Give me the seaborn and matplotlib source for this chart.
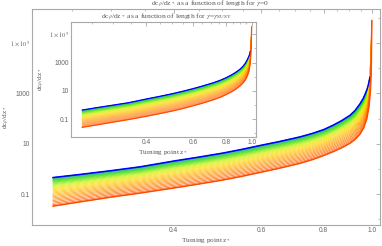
import numpy as np
import pandas as pd
import matplotlib
matplotlib.use("Agg")
import matplotlib.pyplot as plt
import matplotlib.ticker as mticker
from matplotlib.colors import LinearSegmentedColormap
import seaborn as sns

# ---------------- data (log10 of dc/dz) ----------------
z_grid = [0.229, 0.26, 0.3, 0.343, 0.4, 0.45, 0.503, 0.55, 0.6, 0.65, 0.717, 0.76,
          0.80, 0.835, 0.87, 0.904, 0.925, 0.946, 0.962, 0.976]

# main panel (gamma = 0)
main_top = [-0.345, -0.22, -0.07, 0.083, 0.31, 0.47, 0.63, 0.78, 0.94, 1.08, 1.27, 1.41,
            1.56, 1.73, 1.92, 2.13, 2.32, 2.58, 2.82, 3.12]
main_bottom = [-1.48, -1.31, -1.12, -0.96, -0.76, -0.60, -0.44, -0.29, -0.13, 0.02, 0.22, 0.37,
               0.53, 0.68, 0.84, 1.02, 1.17, 1.38, 1.62, 1.97]
main_tail_z_top = [0.979, 0.983, 0.987, 0.991]
main_tail_top = [3.20, 3.32, 3.47, 3.65]
main_tail_z_bottom = [0.986, 0.993, 0.997, 0.9995]
main_tail_bottom = [2.45, 3.10, 4.05, 5.90]

# inset panel (gamma = gamma_SUSY)
inset_top = [-0.35, -0.18, 0.0, 0.17, 0.43, 0.62, 0.81, 0.98, 1.16, 1.34, 1.58, 1.75,
             1.93, 2.11, 2.31, 2.54, 2.72, 2.95, 3.2, 3.45]
inset_bottom = [-1.57, -1.40, -1.20, -1.02, -0.79, -0.60, -0.41, -0.24, -0.05, 0.13, 0.38, 0.55,
                0.74, 0.92, 1.12, 1.36, 1.54, 1.78, 2.04, 2.38]
inset_tail_z_top = [0.979, 0.983, 0.986, 0.989]
inset_tail_top = [3.52, 3.62, 3.72, 3.82]
inset_tail_z_bottom = [0.986, 0.992, 0.996, 0.9995]
inset_tail_bottom = [2.90, 3.50, 4.30, 5.54]

# position of each curve of the family inside the band (0 = top/blue, 1 = bottom/red)
band_position = [0.0, 0.025, 0.05, 0.076, 0.103, 0.131, 0.16, 0.19, 0.221, 0.253,
                 0.286, 0.32, 0.355, 0.391, 0.428, 0.466, 0.505, 0.545, 0.586, 0.628,
                 0.671, 0.715, 0.76, 0.806, 0.853, 0.901, 0.95, 1.0]

x_major = [0.4, 0.6, 0.8, 1.0]
x_major_labels = ["0.4", "0.6", "0.8", "1.0"]
x_minor = [0.25, 0.3, 0.35, 0.45, 0.5, 0.55, 0.65, 0.7, 0.75, 0.85, 0.9, 0.95]
y_major = [0.1, 10, 1000, 1e5]
y_major_labels = ["0.1", "10", "1000", r"$1\times10^5$"]
y_minor = [0.01, 1, 100, 1e4, 1e6]

title_main = r"dc$_\beta$/dz$_*$ as a function of length for $\gamma$=0"
title_inset = r"dc$_\beta$/dz$_*$ as a function of length for $\gamma$=$\gamma_{\rm SUSY}$"
ylabel = r"dc$_\beta$/dz$_*$"
xlabel = r"Turning point z$_*$"


def family(top, bottom, tz_top, t_top, tz_bot, t_bot):
    rows = []
    top = np.array(top)
    bottom = np.array(bottom)
    for i, f in enumerate(band_position):
        vals = (1 - f) * top + f * bottom
        tz = [(1 - f) * a + f * b for a, b in zip(tz_top, tz_bot)]
        tv = [(1 - f) * a + f * b for a, b in zip(t_top, t_bot)]
        for z, v in zip(list(z_grid) + tz, list(vals) + tv):
            rows.append({"z": z, "value": 10 ** v, "curve": i})
    return pd.DataFrame(rows)


df_main = family(main_top, main_bottom, main_tail_z_top, main_tail_top,
                 main_tail_z_bottom, main_tail_bottom)
df_inset = family(inset_top, inset_bottom, inset_tail_z_top, inset_tail_top,
                  inset_tail_z_bottom, inset_tail_bottom)

cmap = LinearSegmentedColormap.from_list(
    "fam",
    [(0.0, (0.0, 0.0, 1.0)), (0.05, (0.0, 0.7, 0.4)), (0.18, (0.15, 0.85, 0.0)),
     (0.38, (0.8, 0.95, 0.0)), (0.52, (1.0, 0.85, 0.0)), (0.75, (1.0, 0.6, 0.0)),
     (1.0, (1.0, 0.3, 0.0))])
n = len(band_position)
palette = [cmap(i / (n - 1)) for i in range(n)]

# ---------------- figure ----------------
sns.set_style("white")
plt.rcParams["font.family"] = ["Liberation Serif", "DejaVu Serif"]
plt.rcParams["mathtext.fontset"] = "stix"

fig = plt.figure(figsize=(3.82, 2.46), dpi=100)
ax = fig.add_axes([32 / 382, 1 - 225 / 246, 348 / 382, 215.7 / 246])
axi = fig.add_axes([71 / 382, 1 - 136.7 / 246, 185 / 382, 115 / 246])

frame_col = "#a8a8a8"
text_col = "#555555"
tick_col = "#666666"


def style(a, ylim, lab_x, xlab_y):
    a.set_xscale("log")
    a.set_yscale("log")
    a.set_xlim(0.208, 1.038)
    a.set_ylim(*ylim)
    a.xaxis.set_major_locator(mticker.FixedLocator(x_major))
    a.xaxis.set_major_formatter(mticker.FixedFormatter(x_major_labels))
    a.xaxis.set_minor_locator(mticker.FixedLocator(x_minor))
    a.xaxis.set_minor_formatter(mticker.NullFormatter())
    a.yaxis.set_major_locator(mticker.FixedLocator(y_major))
    a.yaxis.set_major_formatter(mticker.FixedFormatter(y_major_labels))
    a.yaxis.set_minor_locator(mticker.FixedLocator(y_minor))
    a.yaxis.set_minor_formatter(mticker.NullFormatter())
    for s in a.spines.values():
        s.set_color(frame_col)
        s.set_linewidth(0.8)
    a.tick_params(which="both", direction="in", top=True, right=True, color=frame_col,
                  labelcolor=tick_col, labelsize=4.8, pad=1.5)
    a.tick_params(which="major", length=3, width=0.6)
    a.tick_params(which="minor", length=1.6, width=0.5)
    for lbl in a.get_xticklabels() + a.get_yticklabels():
        lbl.set_fontfamily(["Liberation Sans", "DejaVu Sans"])
    a.set_xlabel(xlabel, fontsize=5.2, color=text_col)
    a.set_ylabel(ylabel, fontsize=5.2, color=text_col)
    a.yaxis.set_label_coords(lab_x, 0.5)
    a.xaxis.set_label_coords(0.5, xlab_y)
    a.set_facecolor("white")


def draw(a, df, lw, lw_edge):
    sns.lineplot(data=df, x="z", y="value", hue="curve", palette=palette, legend=False,
                 linewidth=lw, ax=a, sort=True, estimator=None)
    edges = df[df["curve"].isin([0, n - 1])]
    sns.lineplot(data=edges, x="z", y="value", hue="curve",
                 palette={0: palette[0], n - 1: palette[-1]}, legend=False,
                 linewidth=lw_edge, ax=a, sort=True, estimator=None)


draw(ax, df_main, 0.5, 1.1)
draw(axi, df_inset, 0.4, 0.9)

style(ax, (10 ** -2.23, 10 ** 6.34), -0.058, -0.05)
style(axi, (10 ** -2.23, 10 ** 5.89), -0.13, -0.10)

fig.text(210 / 382, 1 - 4.5 / 246, title_main, ha="center", va="center",
         fontsize=5.4, color=text_col)
fig.text(166 / 382, 1 - 17 / 246, title_inset, ha="center", va="center",
         fontsize=5.4, color=text_col)

fig.savefig("out.png", dpi=100)
